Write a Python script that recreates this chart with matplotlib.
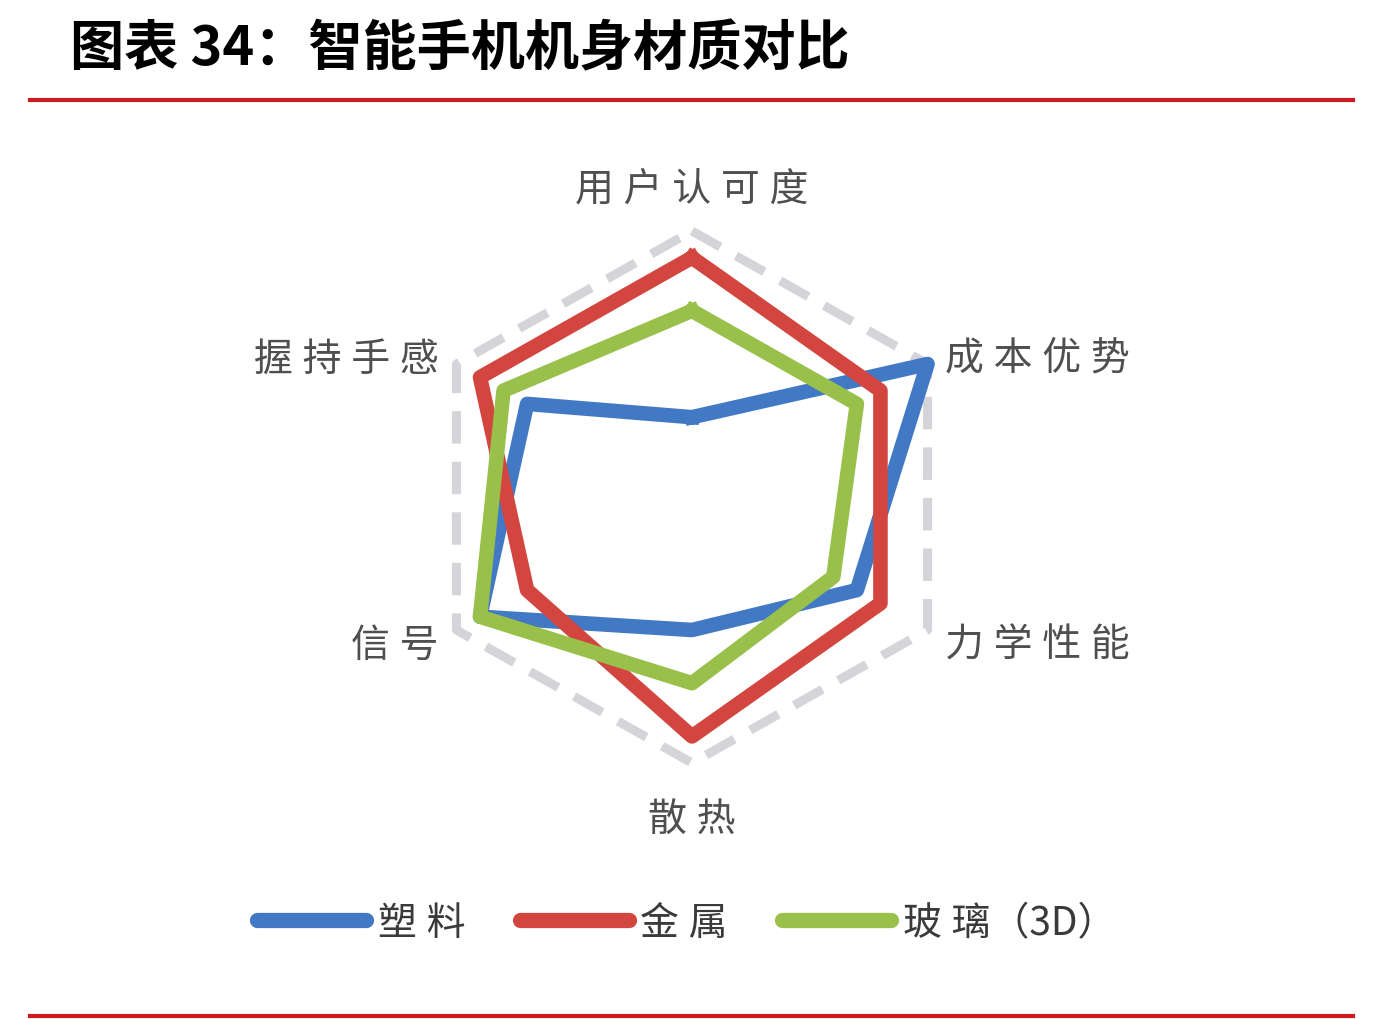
import numpy as np
import matplotlib
matplotlib.use("Agg")
import matplotlib.pyplot as plt
from matplotlib.lines import Line2D

plt.rcParams['font.family'] = ['Noto Sans CJK SC', 'DejaVu Sans']

# ---- data ----
categories = ["用户认可度", "成本优势", "力学性能", "散热", "信号", "握持手感"]
plastic = [3, 10, 7, 5, 9, 7]
metal = [9, 8, 8, 9, 7, 9]
glass = [7, 7, 6, 7, 9, 8]
outline = [10, 10, 10, 10, 10, 10]
series_names = ["塑料", "金属", "玻璃（3D）"]
title = "图表 34：智能手机机身材质对比"

colors = ["#4279c4", "#d2463f", "#99c04a"]
grid_color = "#d5d5d9"
label_color = "#4f4f4f"
SP = "\u2005"  # letter spacing

W, H = 1396, 1020
fig = plt.figure(figsize=(W / 100, H / 100), dpi=100)
fig.patch.set_facecolor("white")

cx, cy, Ry, Rx = 692, 498, 266, 272
ax = fig.add_axes([(cx - Rx) / W, 1 - (cy + Ry) / H, 2 * Rx / W, 2 * Ry / H], projection="polar")
ax.set_aspect("auto")
ax.set_theta_offset(np.pi / 2)
ax.set_theta_direction(-1)
ax.set_ylim(0, 10)
ax.set_axis_off()

n = len(categories)
theta = np.linspace(0, 2 * np.pi, n, endpoint=False)
theta_c = np.append(theta, theta[0])

def closed(v):
    return np.append(np.array(v, dtype=float), v[0])

ax.plot(theta_c, closed(outline), color=grid_color, lw=6.5, linestyle=(0, (3.6, 2.0)),
        clip_on=False, zorder=1)

for vals, c, name in zip([plastic, metal, glass], colors, series_names):
    ax.plot(theta_c, closed(vals), color=c, lw=10.5, clip_on=False, zorder=3,
            solid_joinstyle="round", label=name)

# category labels
label_pos = [
    (11.75, "center", "center_baseline"),
    (10.75, "left", "center_baseline"),
    (10.75, "left", "center_baseline"),
    (11.95, "center", "center_baseline"),
    (10.75, "right", "center_baseline"),
    (10.75, "right", "center_baseline"),
]
for t, cat, (r, ha, va) in zip(theta, categories, label_pos):
    ax.text(t, r, SP.join(cat), ha=ha, va=va, fontsize=28, color=label_color, clip_on=False)

# legend
handles = [Line2D([0], [0], color=c, lw=11, solid_capstyle="round") for c in colors]
leg_labels = [SP.join(s) if len(s) == 2 else SP.join(s[:2]) + s[2:] for s in series_names]
fig.legend(handles, leg_labels,
           loc="center", bbox_to_anchor=(0.492, 1 - 924 / H),
           ncol=3, frameon=False, fontsize=28, handlelength=2.8, handletextpad=0.3,
           columnspacing=1.4, labelcolor="#3a3a3a")

# title and rules
fig.text(70 / W, 1 - 50 / H, title, fontsize=39, fontweight="bold", color="black",
         ha="left", va="center")
fig.add_artist(Line2D([30 / W, 1353 / W], [1 - 101 / H, 1 - 101 / H], color="#cc1a1f", lw=3))
fig.add_artist(Line2D([30 / W, 1353 / W], [1 - 1017 / H, 1 - 1017 / H], color="#cc1a1f", lw=3))

fig.savefig("out.png", dpi=100, facecolor="white")
